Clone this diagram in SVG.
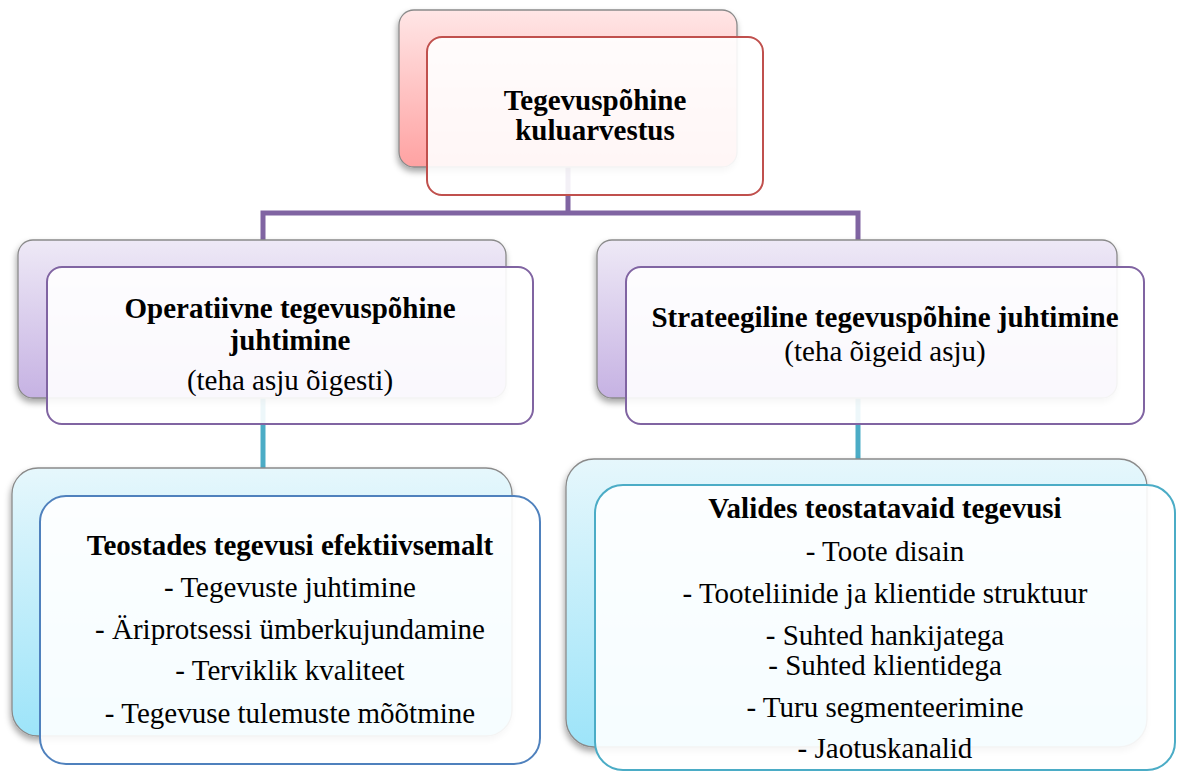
<svg xmlns="http://www.w3.org/2000/svg" width="1182" height="772" viewBox="0 0 1182 772">
<style>
.t{font-family:"Liberation Serif","Times New Roman",serif;font-size:29px;fill:#000;text-anchor:middle}
.b{font-weight:bold}
.back{stroke:#8a8a8a;stroke-width:1.3}
.front{fill:#ffffff;fill-opacity:0.9;stroke-width:2}
</style>
<defs>
<linearGradient id="gRed" x1="0" y1="0" x2="0" y2="1"><stop offset="0" stop-color="#ffe6e6"/><stop offset="1" stop-color="#ffa2a2"/></linearGradient>
<linearGradient id="gPur" x1="0" y1="0" x2="0" y2="1"><stop offset="0" stop-color="#eee9f6"/><stop offset="1" stop-color="#c6b2e3"/></linearGradient>
<linearGradient id="gCyan" x1="0" y1="0" x2="0" y2="1"><stop offset="0" stop-color="#e6f7fc"/><stop offset="1" stop-color="#9de4f9"/></linearGradient>
<filter id="sh" x="-10%" y="-10%" width="120%" height="130%"><feDropShadow dx="-1" dy="4" stdDeviation="3" flood-color="#000" flood-opacity="0.35"/></filter>
</defs>
<g id="connectors" fill="none" stroke-width="5">
<path d="M568 167 V213 H263 V242 M568 213 H858 V242" stroke="#8064a2"/>
<path d="M263 398 V468" stroke="#4bacc6"/>
<path d="M858 398 V459" stroke="#4bacc6"/>
</g>
<g id="node-top">
<rect class="back" x="399" y="10" width="338" height="157" rx="15" fill="url(#gRed)" filter="url(#sh)"/>
<rect class="front" x="427" y="37" width="336" height="158" rx="15" stroke="#c0504d"/>
<text class="t b" x="595" y="110">Tegevuspõhine</text>
<text class="t b" x="595" y="140">kuluarvestus</text>
</g>
<g id="node-operative">
<rect class="back" x="18" y="240" width="488" height="158" rx="15" fill="url(#gPur)" filter="url(#sh)"/>
<rect class="front" x="47" y="267" width="486" height="157" rx="15" stroke="#8064a2"/>
<text class="t b" x="290" y="318">Operatiivne tegevuspõhine</text>
<text class="t b" x="290" y="350">juhtimine</text>
<text class="t" x="290" y="390">(teha asju õigesti)</text>
</g>
<g id="node-strategic">
<rect class="back" x="597" y="240" width="520" height="158" rx="15" fill="url(#gPur)" filter="url(#sh)"/>
<rect class="front" x="626" y="267" width="518" height="157" rx="15" stroke="#8064a2"/>
<text class="t b" x="885" y="327">Strateegiline tegevuspõhine juhtimine</text>
<text class="t" x="885" y="361">(teha õigeid asju)</text>
</g>
<g id="node-efficient">
<rect class="back" x="12" y="468" width="500" height="268" rx="26" fill="url(#gCyan)" filter="url(#sh)"/>
<rect class="front" x="40" y="496" width="500" height="268" rx="26" stroke="#4f81bd"/>
<text class="t b" x="290" y="555">Teostades tegevusi efektiivsemalt</text>
<text class="t" x="290" y="597">- Tegevuste juhtimine</text>
<text class="t" x="290" y="639">- Äriprotsessi ümberkujundamine</text>
<text class="t" x="290" y="680">- Terviklik kvaliteet</text>
<text class="t" x="290" y="723">- Tegevuse tulemuste mõõtmine</text>
</g>
<g id="node-choosing">
<rect class="back" x="566" y="459" width="581" height="288" rx="28" fill="url(#gCyan)" filter="url(#sh)"/>
<rect class="front" x="595" y="485" width="580" height="285" rx="28" stroke="#4bacc6"/>
<text class="t b" x="885" y="518">Valides teostatavaid tegevusi</text>
<text class="t" x="885" y="561">- Toote disain</text>
<text class="t" x="885" y="603">- Tooteliinide ja klientide struktuur</text>
<text class="t" x="885" y="645">- Suhted hankijatega</text>
<text class="t" x="885" y="675">- Suhted klientidega</text>
<text class="t" x="885" y="717">- Turu segmenteerimine</text>
<text class="t" x="885" y="758">- Jaotuskanalid</text>
</g>
</svg>
